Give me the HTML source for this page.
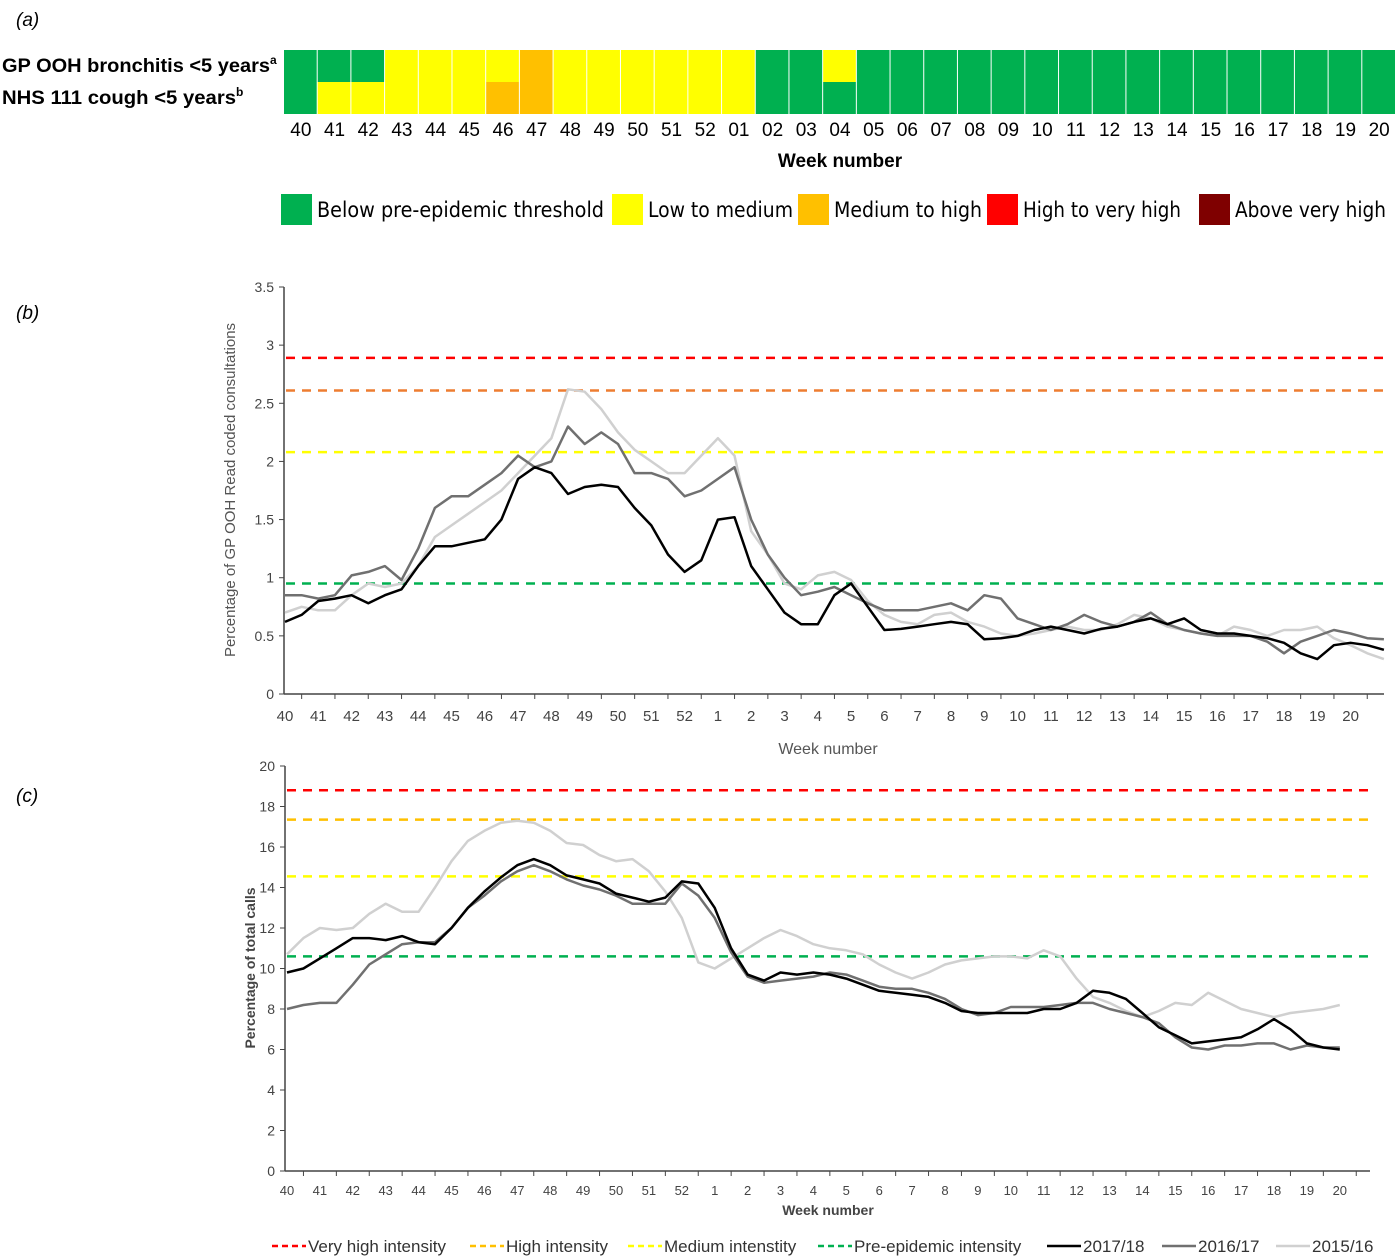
<!DOCTYPE html>
<html><head><meta charset="utf-8"><style>
body{margin:0;background:#fff;}
svg{display:block;font-family:"Liberation Sans",Arial,sans-serif;}
</style></head><body>
<svg id="fig" width="1400" height="1259" viewBox="0 0 1400 1259" xmlns="http://www.w3.org/2000/svg">
<text x="16" y="26" font-size="19" font-style="italic">(a)</text>
<text x="16" y="319" font-size="19" font-style="italic">(b)</text>
<text x="16" y="802" font-size="19" font-style="italic">(c)</text>
<text x="2" y="72" font-size="19" font-weight="bold"><tspan textLength="268" lengthAdjust="spacingAndGlyphs">GP OOH bronchitis &lt;5 years</tspan><tspan font-size="12" dy="-8">a</tspan></text>
<text x="2" y="104" font-size="19" font-weight="bold"><tspan textLength="234" lengthAdjust="spacingAndGlyphs">NHS 111 cough &lt;5 years</tspan><tspan font-size="12" dy="-8">b</tspan></text>
<g id="heat"></g>
<text x="840" y="167" font-size="19" font-weight="bold" text-anchor="middle">Week number</text>
<g id="hlegend"></g>
<g id="pb"></g>
<g id="pc"></g>
</svg>
<script>
const NS="http://www.w3.org/2000/svg";
function mk(p,t,a,txt){const e=document.createElementNS(NS,t);for(const k in a)e.setAttribute(k,a[k]);if(txt!==undefined)e.textContent=txt;p.appendChild(e);return e;}
// ---- Panel a data ----
const weeks=["40","41","42","43","44","45","46","47","48","49","50","51","52","01","02","03","04","05","06","07","08","09","10","11","12","13","14","15","16","17","18","19","20"];
const rowGP=["G","G","G","Y","Y","Y","Y","O","Y","Y","Y","Y","Y","Y","G","G","Y","G","G","G","G","G","G","G","G","G","G","G","G","G","G","G","G"];
const rowNHS=["G","Y","Y","Y","Y","Y","O","O","Y","Y","Y","Y","Y","Y","G","G","G","G","G","G","G","G","G","G","G","G","G","G","G","G","G","G","G"];
const cmap={G:"#00b050",Y:"#ffff00",O:"#ffc000",R:"#ff0000",D:"#7f0000"};
const legendLabels=["Below pre-epidemic threshold","Low to medium","Medium to high","High to very high","Above very high"];
const legendColors=["#00b050","#ffff00","#ffc000","#ff0000","#7f0000"];
const legendWidths=[287,145,148,158,151];
const heat=document.getElementById('heat');
const cw=(1396-284)/weeks.length;
weeks.forEach((w,i)=>{
  const x=284+i*cw;
  if(rowGP[i]===rowNHS[i]){
    const r=mk(heat,'rect',{x:x,y:50,width:cw-1,height:64,fill:cmap[rowGP[i]]});
    
    
  } else {
    const r1=mk(heat,'rect',{x:x,y:50,width:cw-1,height:32,fill:cmap[rowGP[i]]});
    
    
    const r2=mk(heat,'rect',{x:x,y:82,width:cw-1,height:32,fill:cmap[rowNHS[i]]});
    
    
  }
  const t=mk(heat,'text',{x:x+cw/2,y:136,'font-size':19,'text-anchor':'middle'},w);
  
  
});
const hl=document.getElementById('hlegend');
const lx=[281,612,798,987,1199];
legendLabels.forEach((l,i)=>{
  const r=mk(hl,'rect',{x:lx[i],y:194,width:31,height:31,fill:legendColors[i]});
  
  
  const t=mk(hl,'text',{x:lx[i]+36,y:217,'font-size':21,textLength:legendWidths[i],lengthAdjust:'spacingAndGlyphs','font-family':'"DejaVu Sans Condensed","Liberation Sans",sans-serif'},l);
  
  
});
// ---- Panel b data ----
const bBlack=[0.62,0.68,0.8,0.82,0.85,0.78,0.85,0.9,1.1,1.27,1.27,1.3,1.33,1.5,1.85,1.95,1.9,1.72,1.78,1.8,1.78,1.6,1.45,1.2,1.05,1.15,1.5,1.52,1.1,0.9,0.7,0.6,0.6,0.85,0.95,0.75,0.55,0.56,0.58,0.6,0.62,0.6,0.47,0.48,0.5,0.55,0.58,0.55,0.52,0.56,0.58,0.62,0.65,0.6,0.65,0.55,0.52,0.52,0.5,0.48,0.44,0.35,0.3,0.42,0.44,0.42,0.38];
const bGrey=[0.85,0.85,0.82,0.85,1.02,1.05,1.1,0.98,1.25,1.6,1.7,1.7,1.8,1.9,2.05,1.95,2.0,2.3,2.15,2.25,2.15,1.9,1.9,1.85,1.7,1.75,1.85,1.95,1.5,1.2,1.0,0.85,0.88,0.92,0.85,0.78,0.72,0.72,0.72,0.75,0.78,0.72,0.85,0.82,0.65,0.6,0.55,0.6,0.68,0.62,0.58,0.62,0.7,0.6,0.55,0.52,0.5,0.5,0.5,0.45,0.35,0.45,0.5,0.55,0.52,0.48,0.47];
const bLight=[0.7,0.75,0.72,0.72,0.85,0.95,0.92,0.95,1.1,1.35,1.45,1.55,1.65,1.75,1.9,2.05,2.2,2.62,2.6,2.45,2.25,2.1,2.0,1.9,1.9,2.05,2.2,2.05,1.4,1.2,0.95,0.9,1.02,1.05,0.98,0.8,0.68,0.62,0.6,0.68,0.7,0.62,0.58,0.52,0.5,0.52,0.55,0.58,0.55,0.55,0.6,0.68,0.65,0.58,0.55,0.52,0.5,0.58,0.55,0.5,0.55,0.55,0.58,0.48,0.42,0.35,0.3];
const bThresh=[2.89,2.61,2.08,0.95];
const bTicks=[0,0.5,1,1.5,2,2.5,3,3.5];
const bWeekLabels=["40","41","42","43","44","45","46","47","48","49","50","51","52","1","2","3","4","5","6","7","8","9","10","11","12","13","14","15","16","17","18","19","20"];
// ---- Panel c data ----
const cBlack=[9.8,10.0,10.5,11,11.5,11.5,11.4,11.6,11.3,11.2,12,13,13.8,14.5,15.1,15.4,15.1,14.6,14.4,14.2,13.7,13.5,13.3,13.5,14.3,14.2,13,11,9.7,9.4,9.8,9.7,9.8,9.7,9.5,9.2,8.9,8.8,8.7,8.6,8.3,7.9,7.8,7.8,7.8,7.8,8.0,8.0,8.3,8.9,8.8,8.5,7.8,7.1,6.7,6.3,6.4,6.5,6.6,7.0,7.5,7.0,6.3,6.1,6.0];
const cGrey=[8.0,8.2,8.3,8.3,9.2,10.2,10.7,11.2,11.3,11.3,12,13,13.6,14.3,14.8,15.1,14.8,14.4,14.1,13.9,13.6,13.2,13.2,13.2,14.2,13.6,12.5,10.8,9.6,9.3,9.4,9.5,9.6,9.8,9.7,9.4,9.1,9.0,9.0,8.8,8.5,8.0,7.7,7.8,8.1,8.1,8.1,8.2,8.3,8.3,8.0,7.8,7.6,7.3,6.6,6.1,6.0,6.2,6.2,6.3,6.3,6.0,6.2,6.1,6.1];
const cLight=[10.7,11.5,12,11.9,12,12.7,13.2,12.8,12.8,14,15.3,16.3,16.8,17.2,17.3,17.2,16.8,16.2,16.1,15.6,15.3,15.4,14.8,13.8,12.5,10.3,10.0,10.5,11,11.5,11.9,11.6,11.2,11,10.9,10.7,10.2,9.8,9.5,9.8,10.2,10.4,10.5,10.6,10.6,10.5,10.9,10.6,9.5,8.6,8.3,7.9,7.6,7.9,8.3,8.2,8.8,8.4,8.0,7.8,7.6,7.8,7.9,8.0,8.2];
const cThresh=[18.8,17.35,14.55,10.6];
const cTicks=[0,2,4,6,8,10,12,14,16,18,20];
const threshColors=["#ff0000","#ed7d31","#ffff00","#00b050"];
const cThreshColors=["#ff0000","#ffc000","#ffff00","#00b050"];
const threshNames=["very-high","high","medium","pre-epidemic"];
const seriesNames=["2015-16","2016-17","2017-18"];
const seriesColors=["#d0d0d0","#707070","#000000"];

function panel(g,o){
  const xs=i=>o.x0+i*o.dx;
  const ys=v=>o.y0-(v-0)/o.ymax*(o.y0-o.y1);
  mk(g,'line',{x1:o.ax,y1:o.y1,x2:o.ax,y2:o.y0,stroke:'#444','stroke-width':1.5});
  mk(g,'line',{x1:o.ax,y1:o.y0,x2:o.xend,y2:o.y0,stroke:'#444','stroke-width':1.5});
  o.ticks.forEach(t=>{
    mk(g,'line',{x1:o.ax-5,y1:ys(t),x2:o.ax,y2:ys(t),stroke:'#444'});
    const e=mk(g,'text',{x:o.ax-10,y:ys(t)+5,'font-size':14,'text-anchor':'end',fill:'#444'},String(t));
    
    
  });
  o.weeks.forEach((w,i)=>{
    mk(g,'line',{x1:xs(i)+o.dx/2,y1:o.y0,x2:xs(i)+o.dx/2,y2:o.y0+5,stroke:'#444'});
    const e=mk(g,'text',{x:xs(i),y:o.y0+o.lblOff,'font-size':o.lblSize,'text-anchor':'middle',fill:'#444'},w);
    
    
  });
  o.thresh.forEach((v,i)=>{
    const l=mk(g,'line',{x1:o.ax+2,y1:ys(v),x2:o.xend,y2:ys(v),stroke:o.tcol[i],'stroke-width':2.5,'stroke-dasharray':'9,7'});
    
    
  });
  [o.light,o.grey,o.black].forEach((s,k)=>{
    const pts=s.map((v,i)=>xs(i/2).toFixed(1)+','+ys(v).toFixed(1)).join(' ');
    const p=mk(g,'polyline',{points:pts,fill:'none',stroke:seriesColors[k],'stroke-width':2.5,'stroke-linejoin':'round'});
    
    
  });
}
const pb=document.getElementById('pb');
panel(pb,{x0:285,dx:33.3,ax:284,xend:1384,y0:694,y1:287,ymax:3.5,ticks:bTicks,weeks:bWeekLabels,lblOff:27,lblSize:15,thresh:bThresh,tcol:threshColors,black:bBlack,grey:bGrey,light:bLight});
let t=mk(pb,'text',{x:828,y:754,'font-size':16,'text-anchor':'middle',fill:'#555'},'Week number');


t=mk(pb,'text',{x:0,y:0,'font-size':15,'text-anchor':'middle',fill:'#555',transform:'translate(235,490) rotate(-90)'},'Percentage of GP OOH Read coded consultations');


const pc=document.getElementById('pc');
panel(pc,{x0:287,dx:32.9,ax:285,xend:1370,y0:1171,y1:766,ymax:20,ticks:cTicks,weeks:bWeekLabels,lblOff:24,lblSize:13,thresh:cThresh,tcol:cThreshColors,black:cBlack,grey:cGrey,light:cLight});
t=mk(pc,'text',{x:828,y:1215,'font-size':14,'font-weight':'bold','text-anchor':'middle',fill:'#444'},'Week number');


t=mk(pc,'text',{x:0,y:0,'font-size':14,'font-weight':'bold','text-anchor':'middle',fill:'#444',transform:'translate(255,968) rotate(-90)'},'Percentage of total calls');


const legItems=["Very high intensity","High intensity","Medium intenstity","Pre-epidemic intensity","2017/18","2016/17","2015/16"];
const legCols=["#ff0000","#ffc000","#ffff00","#00b050","#000000","#707070","#d0d0d0"];
const legDash=[true,true,true,true,false,false,false];
const legX=[272,470,628,818,1047,1162,1276];
legItems.forEach((l,i)=>{
  const ln=mk(pc,'line',{x1:legX[i],y1:1246,x2:legX[i]+34,y2:1246,stroke:legCols[i],'stroke-width':2.5,'stroke-dasharray':legDash[i]?'6,4':'none'});
  
  
  const e=mk(pc,'text',{x:legX[i]+36,y:1252,'font-size':17,fill:'#333'},l);
  
  
});
</script>
</body></html>
